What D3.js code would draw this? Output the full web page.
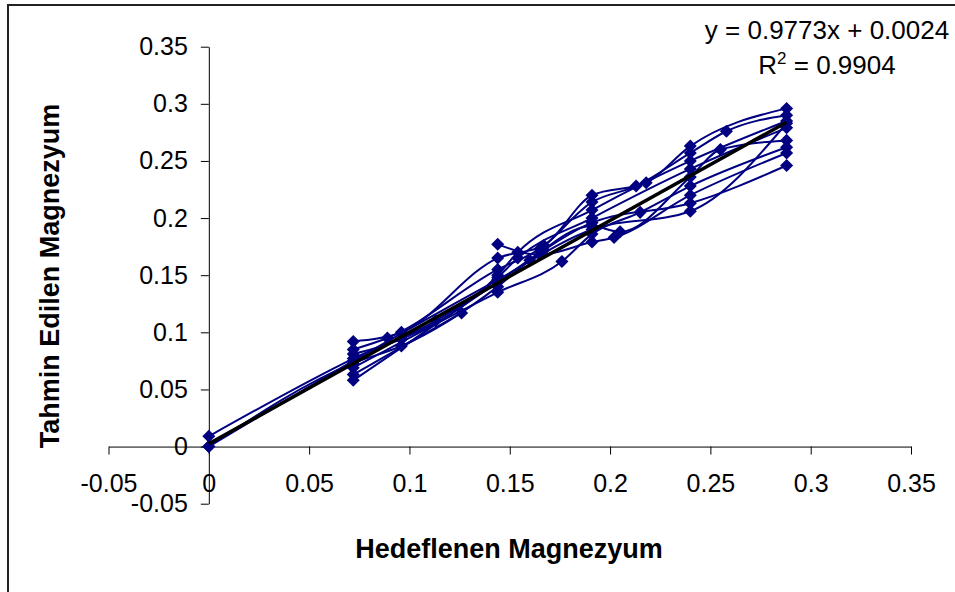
<!DOCTYPE html>
<html>
<head>
<meta charset="utf-8">
<script src="https://cdn.jsdelivr.net/npm/d3@7"></script>
<style>
  body { margin: 0; background: #fff; }
  svg { display: block; font-family: "Liberation Sans", Arial, sans-serif; }
</style>
</head>
<body>
<script>
var width = 955;
var height = 592;

// tick values for both axes
var xTicks = [-0.05, 0, 0.05, 0.1, 0.15, 0.2, 0.25, 0.3, 0.35];
var yTicks = [-0.05, 0, 0.05, 0.1, 0.15, 0.2, 0.25, 0.3, 0.35];

// each run: [target, predicted]
var run1 = [[0.072, 0.092], [0.096, 0.100], [0.144, 0.165], [0.167, 0.176], [0.191, 0.220], [0.218, 0.231], [0.24, 0.263], [0.288, 0.296]];
var run2 = [[0.072, 0.085], [0.089, 0.095], [0.144, 0.155], [0.165, 0.173], [0.191, 0.214], [0.213, 0.228], [0.24, 0.257], [0.258, 0.276], [0.288, 0.290]];
var run3 = [[0.072, 0.081], [0.096, 0.094], [0.144, 0.150], [0.154, 0.170], [0.191, 0.207], [0.24, 0.250], [0.288, 0.285]];
var run4 = [[0, 0.009], [0.072, 0.077], [0.113, 0.110], [0.144, 0.148], [0.154, 0.165], [0.191, 0.200], [0.24, 0.243], [0.288, 0.279]];
var run5 = [[0, 0], [0.072, 0.073], [0.096, 0.088], [0.144, 0.140], [0.160, 0.163], [0.191, 0.193], [0.205, 0.188], [0.24, 0.236], [0.255, 0.260], [0.288, 0.268]];
var run6 = [[0.072, 0.069], [0.144, 0.135], [0.176, 0.162], [0.191, 0.186], [0.215, 0.205], [0.24, 0.228], [0.288, 0.262]];
var run7 = [[0.144, 0.177], [0.165, 0.168], [0.191, 0.179], [0.202, 0.183], [0.24, 0.220], [0.288, 0.257]];
var run8 = [[0.072, 0.058], [0.144, 0.144], [0.167, 0.172], [0.191, 0.196], [0.24, 0.213], [0.288, 0.246]];
var run9 = [[0, 0], [0.072, 0.075], [0.144, 0.146], [0.191, 0.190], [0.24, 0.206], [0.288, 0.283]];
var run10 = [[0.072, 0.063], [0.126, 0.117]];
var runs = [run1, run2, run3, run4, run5, run6, run7, run8, run9, run10];

// linear trend line
var slope = 0.9773;
var intercept = 0.0024;
var trendRange = [0, 0.288];

var svg = d3.select("body").append("svg")
    .attr("width", width)
    .attr("height", height);

// outer chart border (runs off the right/bottom edge)
svg.append("rect")
    .attr("x", 8)
    .attr("y", 5)
    .attr("width", 1000)
    .attr("height", 700)
    .attr("fill", "none")
    .attr("stroke", "#222")
    .attr("stroke-width", 2);

var x = d3.scaleLinear().domain([-0.05, 0.35]).range([108.5, 911]);
var y = d3.scaleLinear().domain([-0.05, 0.35]).range([503.7, 46.7]);

var fmt = function (d) { return String(d); };

svg.append("g")
    .attr("transform", "translate(0," + y(0) + ")")
    .call(d3.axisBottom(x).tickValues(xTicks).tickFormat(fmt).tickSize(8).tickSizeOuter(0).tickPadding(20));

svg.append("g")
    .attr("transform", "translate(" + x(0) + ",0)")
    .call(d3.axisLeft(y).tickValues(yTicks).tickFormat(fmt).tickSize(8).tickSizeOuter(0).tickPadding(13));

svg.selectAll(".tick text")
    .style("font-size", "25px")
    .style("font-family", "'Liberation Sans', Arial, sans-serif")
    .attr("fill", "#000");
svg.selectAll(".domain, .tick line").attr("stroke", "#000");

// smoothed lines, one per run
var line = d3.line()
    .x(function (d) { return x(d[0]); })
    .y(function (d) { return y(d[1]); })
    .curve(d3.curveMonotoneX);

var diamond = d3.symbol().type(d3.symbolSquare).size(85);

runs.forEach(function (run) {
    svg.append("path")
        .datum(run)
        .attr("d", line)
        .attr("fill", "none")
        .attr("stroke", "#000080")
        .attr("stroke-width", 2);
});

runs.forEach(function (run) {
    svg.selectAll(null)
        .data(run)
        .enter().append("path")
        .attr("d", diamond)
        .attr("transform", function (d) { return "translate(" + x(d[0]) + "," + y(d[1]) + ") rotate(45)"; })
        .attr("fill", "#000080");
});

// trend line on top
svg.append("line")
    .attr("x1", x(trendRange[0]))
    .attr("y1", y(slope * trendRange[0] + intercept))
    .attr("x2", x(trendRange[1]))
    .attr("y2", y(slope * trendRange[1] + intercept))
    .attr("stroke", "#000")
    .attr("stroke-width", 3.5);

// equation label
svg.append("text")
    .attr("x", 827)
    .attr("y", 39)
    .attr("text-anchor", "middle")
    .style("font-size", "26px")
    .text("y = 0.9773x + 0.0024");

var r2 = svg.append("text")
    .attr("x", 827)
    .attr("y", 74)
    .attr("text-anchor", "middle")
    .style("font-size", "26px");
r2.append("tspan").text("R");
r2.append("tspan").attr("dy", -10).style("font-size", "17px").text("2");
r2.append("tspan").attr("dy", 10).text(" = 0.9904");

// axis titles
svg.append("text")
    .attr("x", 509)
    .attr("y", 558)
    .attr("text-anchor", "middle")
    .style("font-size", "27px")
    .style("font-weight", "bold")
    .text("Hedeflenen Magnezyum");

svg.append("text")
    .attr("transform", "translate(59,276) rotate(-90)")
    .attr("text-anchor", "middle")
    .style("font-size", "27px")
    .style("font-weight", "bold")
    .text("Tahmin Edilen Magnezyum");
</script>
</body>
</html>
